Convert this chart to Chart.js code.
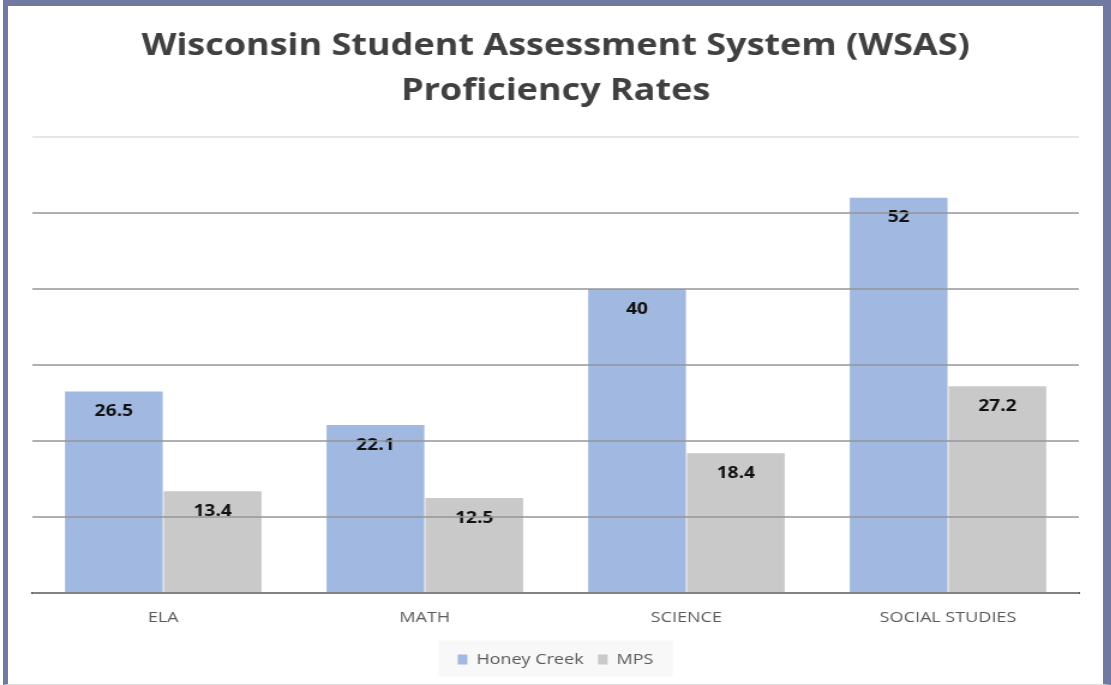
<!DOCTYPE html>
<html>
<head>
<meta charset="utf-8">
<script src="https://cdn.jsdelivr.net/npm/chart.js@4"></script>
<style>
  html, body { margin: 0; padding: 0; background: #fff; overflow: hidden; }
  #frame {
    position: absolute; left: 3px; top: 0; width: 1095px; height: 678px;
    border-left: 5px solid #7179a3; border-top: 6px solid #7179a3;
    border-right: 8px solid #7179a3; border-bottom: 1px solid #dcdcdc;
  }
  /* the source picture is stretched sideways, so the chart is drawn narrow and widened */
  #wrap { position: absolute; left: 0; top: 0; width: 926px; height: 685px;
          transform: scaleX(1.2); transform-origin: 0 0; }
</style>
</head>
<body>
<div id="frame"></div>
<div id="wrap"><canvas id="chart"></canvas></div>
<script>
const categories = ['ELA', 'MATH', 'SCIENCE', 'SOCIAL STUDIES'];
const honeyCreek = [26.5, 22.1, 40, 52];
const mps = [13.4, 12.5, 18.4, 27.2];
const titleLines = ['Wisconsin Student Assessment System (WSAS)', 'Proficiency Rates'];

// value labels inside the top of each bar
const barLabels = {
  id: 'barLabels',
  afterDatasetsDraw(chart){
    const ctx = chart.ctx;
    ctx.save();
    ctx.font = 'bold 16px "Open Sans"';
    ctx.fillStyle = '#111';
    ctx.textAlign = 'center';
    ctx.textBaseline = 'middle';
    chart.data.datasets.forEach((ds, i) => {
      chart.getDatasetMeta(i).data.forEach((bar, j) => {
        ctx.fillText(String(ds.data[j]), bar.x, bar.y + 20);
      });
    });
    ctx.restore();
  }
};

// light panel behind the legend
const legendBg = {
  id: 'legendBg',
  beforeDraw(chart){
    const l = chart.legend;
    if(!l) return;
    const ctx = chart.ctx;
    ctx.save();
    ctx.fillStyle = '#f8f8f8';
    const w = 195, h = 36;
    ctx.fillRect((chart.width - w) / 2, l.top + l.height / 2 - h / 2, w, h);
    ctx.restore();
  }
};

new Chart(document.getElementById('chart'), {
  type: 'bar',
  data: {
    labels: categories,
    datasets: [
      { label: 'Honey Creek', data: honeyCreek, backgroundColor: '#a1b8e1' },
      { label: 'MPS', data: mps, backgroundColor: '#c9c9c9' }
    ]
  },
  options: {
    responsive: true,
    maintainAspectRatio: false,
    animation: false,
    datasets: { bar: { categoryPercentage: 0.755, barPercentage: 0.99 } },
    layout: { padding: { left: 27, right: 27, top: 0, bottom: 8 } },
    plugins: {
      title: {
        display: true,
        text: titleLines,
        color: '#404040',
        font: { family: '"Open Sans"', size: 30, weight: 'bold', lineHeight: 1.5 },
        padding: { top: 24, bottom: 23 }
      },
      legend: {
        position: 'bottom',
        labels: {
          boxWidth: 8, boxHeight: 10, padding: 12,
          color: '#595959',
          font: { family: '"Open Sans"', size: 15 }
        }
      },
      tooltip: { enabled: false }
    },
    scales: {
      x: {
        grid: { display: false },
        border: { color: '#4a4a4a', width: 2 },
        ticks: { color: '#595959', font: { family: '"Open Sans"', size: 15 }, padding: 8 },
        afterFit(scale){ scale.height += 5; }
      },
      y: {
        min: 0, max: 60,
        ticks: { stepSize: 10, display: false },
        border: { display: false },
        grid: {
          z: 1,
          drawTicks: false,
          lineWidth: 2,
          color: (c) => c.tick && c.tick.value === 60 ? '#e6e6e6' : 'rgba(150,150,150,0.75)'
        }
      }
    }
  },
  plugins: [barLabels, legendBg]
});
</script>
</body>
</html>
